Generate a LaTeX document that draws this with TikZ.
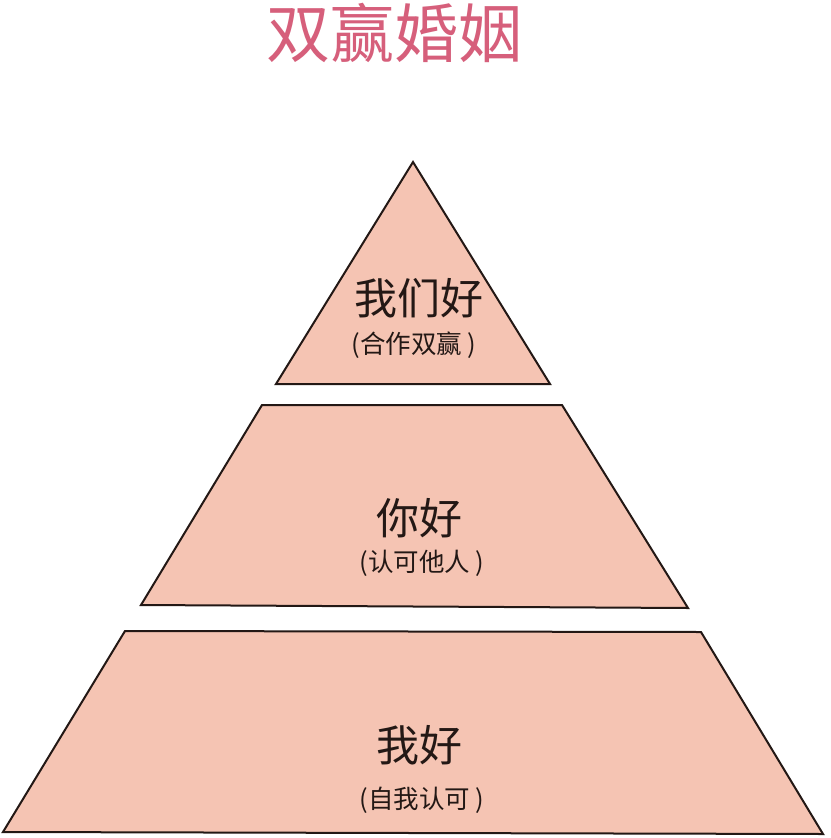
\documentclass[tikz,border=0pt]{standalone}
\usepackage{fontspec}
\setmainfont{Noto Sans CJK SC}
\definecolor{fillc}{HTML}{F5C4B3}
\definecolor{titlec}{HTML}{D65F7B}
\definecolor{textc}{HTML}{231815}
\begin{document}
\begin{tikzpicture}[x=1pt,y=-1pt,
  layer/.style={fill=fillc,draw=textc,line width=2pt,line join=miter},
  big/.style={text=textc,font=\fontsize{43}{47}\selectfont,inner sep=0pt},
  small/.style={text=textc,font=\fontsize{25.5}{29}\selectfont,inner sep=0pt}]
\useasboundingbox (0,0) rectangle (830,838);
\fill[white] (0,0) rectangle (830,838);
\node[text=titlec,font=\fontsize{64}{70}\selectfont,inner sep=0pt] (title) at (394,33) {双赢婚姻};
% top triangle
\coordinate (t1) at (413,162);
\coordinate (t2) at (550,384);
\coordinate (t3) at (276,384);
\draw[layer] (t1) -- (t2) -- (t3) -- cycle;
% middle trapezoid
\coordinate (m1) at (262,405);
\coordinate (m2) at (562,405);
\coordinate (m3) at (688,608);
\coordinate (m4) at (141,605);
\draw[layer] (m1) -- (m2) -- (m3) -- (m4) -- cycle;
% bottom trapezoid
\coordinate (b1) at (125,631);
\coordinate (b2) at (701,632);
\coordinate (b3) at (823,834);
\coordinate (b4) at (3,832);
\draw[layer] (b1) -- (b2) -- (b3) -- (b4) -- cycle;
\node[big] (n1) at (419,298) {我们好};
\node[small] (s1) at (414,345) {(合作双赢 )};
\node[big] (n2) at (419,518) {你好};
\node[small] (s2) at (422,563) {(认可他人 )};
\node[big] (n3) at (419,745) {我好};
\node[small] (s3) at (422,800) {(自我认可 )};
\end{tikzpicture}
\end{document}
